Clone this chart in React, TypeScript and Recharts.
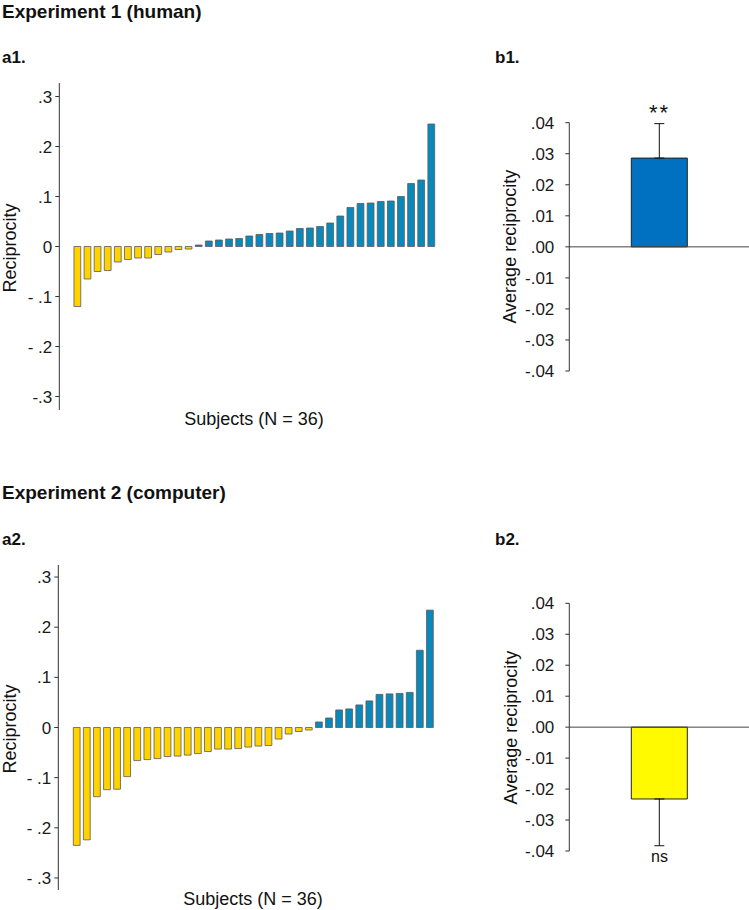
import React from 'react';
import { BarChart, Bar, XAxis, YAxis, Cell, ErrorBar, ReferenceLine } from 'recharts';

const FONT = '"Liberation Sans", Arial, Helvetica, sans-serif';

// ---- Data ----
const subjects = Array.from({ length: 36 }, (_, i) => `S${i + 1}`);

const exp1Reciprocity = [
  -0.12, -0.065, -0.05, -0.048, -0.031, -0.026, -0.023, -0.023, -0.016, -0.011, -0.006, -0.005,
  0.003, 0.011, 0.013, 0.015, 0.016, 0.021, 0.024, 0.026, 0.027, 0.031, 0.036, 0.037,
  0.04, 0.047, 0.061, 0.078, 0.086, 0.087, 0.09, 0.091, 0.1, 0.126, 0.133, 0.245,
];

const exp2Reciprocity = [
  -0.235, -0.224, -0.138, -0.124, -0.123, -0.098, -0.066, -0.064, -0.062, -0.058, -0.057, -0.055,
  -0.052, -0.048, -0.043, -0.043, -0.042, -0.039, -0.037, -0.036, -0.023, -0.013, -0.008, -0.005,
  0.011, 0.019, 0.035, 0.037, 0.045, 0.053, 0.066, 0.067, 0.068, 0.07, 0.154, 0.234,
];

const subjectTicks = [-0.3, -0.2, -0.1, 0, 0.1, 0.2, 0.3];
const exp1TickLabels = ['-.3', '- .2', '- .1', '0', '.1', '.2', '.3'];
const exp2TickLabels = ['- .3', '- .2', '- .1', '0', '.1', '.2', '.3'];

const avgTicks = [-0.04, -0.03, -0.02, -0.01, 0, 0.01, 0.02, 0.03, 0.04];
const avgTickLabels = ['-.04', '-.03', '-.02', '-.01', '.00', '.01', '.02', '.03', '.04'];

const avgCategory = ['Average'];
const exp1Average = [0.0286];
const exp1AverageError = [[0, 0.0111]];
const exp2Average = [-0.0232];
const exp2AverageError = [[0.0151, 0]];

// ---- Colors ----
const YELLOW = '#FFD200';
const BLUE = '#0A88BA';
const BAR_STROKE = '#5a5a5a';
const AXIS = '#333333';

const fmt = (ticks: number[], labels: string[]) => (v: number) => {
  const i = ticks.findIndex((t) => Math.abs(t - v) < 1e-9);
  return i >= 0 ? labels[i] : '';
};

function SubjectChart({
  values,
  labels,
  width,
  height,
  margin,
  domainMax,
  padLeft,
}: {
  values: number[];
  labels: string[];
  width: number;
  height: number;
  margin: { top: number; right: number; bottom: number; left: number };
  domainMax: number;
  padLeft: number;
}) {
  const data = subjects.map((id, i) => ({ id, value: values[i] }));
  return (
    <BarChart width={width} height={height} data={data} margin={margin}>
      <XAxis dataKey="id" hide padding={{ left: padLeft, right: 0 }} />
      <YAxis
        type="number"
        width={50}
        domain={[-domainMax, domainMax]}
        allowDataOverflow
        ticks={subjectTicks}
        interval={0}
        tickFormatter={fmt(subjectTicks, labels)}
        tickSize={4}
        tickMargin={3}
        axisLine={{ stroke: AXIS }}
        tickLine={{ stroke: AXIS }}
        tick={{ fill: '#1a1a1a', fontSize: 17, fontFamily: FONT }}
      />
      <Bar dataKey="value" barSize={6.8} stroke={BAR_STROKE} strokeWidth={0.8} isAnimationActive={false}>
        {data.map((d) => (
          <Cell key={d.id} fill={d.value < 0 ? YELLOW : BLUE} />
        ))}
      </Bar>
    </BarChart>
  );
}

function AverageChart({
  value,
  error,
  fill,
  width,
  height,
  margin,
}: {
  value: number;
  error: number[];
  fill: string;
  width: number;
  height: number;
  margin: { top: number; right: number; bottom: number; left: number };
}) {
  const data = avgCategory.map((name) => ({ name, value, err: error }));
  return (
    <BarChart width={width} height={height} data={data} margin={margin}>
      <XAxis dataKey="name" hide />
      <YAxis
        type="number"
        width={60}
        domain={[-0.04, 0.04]}
        allowDataOverflow
        ticks={avgTicks}
        interval={0}
        tickFormatter={fmt(avgTicks, avgTickLabels)}
        tickSize={4}
        tickMargin={11}
        axisLine={{ stroke: AXIS }}
        tickLine={{ stroke: AXIS }}
        tick={{ fill: '#1a1a1a', fontSize: 17, fontFamily: FONT }}
      />
      <Bar dataKey="value" barSize={56} fill={fill} stroke="#222" strokeWidth={1} isAnimationActive={false}>
        <ErrorBar dataKey="err" width={5} stroke="#111" strokeWidth={1} direction="y" isAnimationActive={false} />
      </Bar>
      <ReferenceLine y={0} stroke="#444" strokeWidth={1} />
    </BarChart>
  );
}

export default function App() {
  return (
    <div style={{ position: 'absolute', left: 0, top: 0, width: 749, height: 910, background: '#fff', overflow: 'hidden' }}>
      <div style={{ position: 'absolute', left: 0, top: 0 }}>
        <SubjectChart
          values={exp1Reciprocity}
          labels={exp1TickLabels}
          width={440}
          height={420}
          margin={{ top: 83, right: 4, bottom: 10, left: 9.3 }}
          domainMax={0.327}
          padLeft={12.65}
        />
      </div>
      <div style={{ position: 'absolute', left: 0, top: 480 }}>
        <SubjectChart
          values={exp2Reciprocity}
          labels={exp2TickLabels}
          width={440}
          height={420}
          margin={{ top: 85, right: 5.4, bottom: 10, left: 8.3 }}
          domainMax={0.324}
          padLeft={13}
        />
      </div>
      <div style={{ position: 'absolute', left: 470, top: 0 }}>
        <AverageChart
          value={exp1Average[0]}
          error={exp1AverageError[0]}
          fill="#0070C0"
          width={279}
          height={400}
          margin={{ top: 122.7, right: 0, bottom: 29, left: 39.3 }}
        />
      </div>
      <div style={{ position: 'absolute', left: 470, top: 480 }}>
        <AverageChart
          value={exp2Average[0]}
          error={exp2AverageError[0]}
          fill="#FFFA00"
          width={279}
          height={400}
          margin={{ top: 123.3, right: 0, bottom: 29, left: 39.3 }}
        />
      </div>

      <svg width={749} height={910} style={{ position: 'absolute', left: 0, top: 0, pointerEvents: 'none' }}>
        <g fontFamily={FONT} fill="#111">
          <text x={2} y={17.5} fontSize={19} fontWeight="bold">Experiment 1 (human)</text>
          <text x={2} y={63} fontSize={17} fontWeight="bold">a1.</text>
          <text x={495} y={62.5} fontSize={17} fontWeight="bold">b1.</text>
          <text x={2} y={499} fontSize={19} fontWeight="bold">Experiment 2 (computer)</text>
          <text x={2} y={545} fontSize={17} fontWeight="bold">a2.</text>
          <text x={495} y={545} fontSize={17} fontWeight="bold">b2.</text>

          <text x={254} y={425} fontSize={18} textAnchor="middle">Subjects (N = 36)</text>
          <text x={253} y={905} fontSize={18} textAnchor="middle">Subjects (N = 36)</text>

          <text x={16} y={248} fontSize={18} textAnchor="middle" transform="rotate(-90 16 248)">Reciprocity</text>
          <text x={16} y={729} fontSize={18} textAnchor="middle" transform="rotate(-90 16 729)">Reciprocity</text>
          <text x={516.5} y={246.7} fontSize={18} textAnchor="middle" transform="rotate(-90 516.5 246.7)">Average reciprocity</text>
          <text x={516.5} y={727.5} fontSize={18} textAnchor="middle" transform="rotate(-90 516.5 727.5)">Average reciprocity</text>

          <text x={659.5} y={120} fontSize={22} textAnchor="middle" letterSpacing={2}>**</text>
          <text x={659.5} y={861.5} fontSize={16} textAnchor="middle">ns</text>
        </g>
      </svg>
    </div>
  );
}
